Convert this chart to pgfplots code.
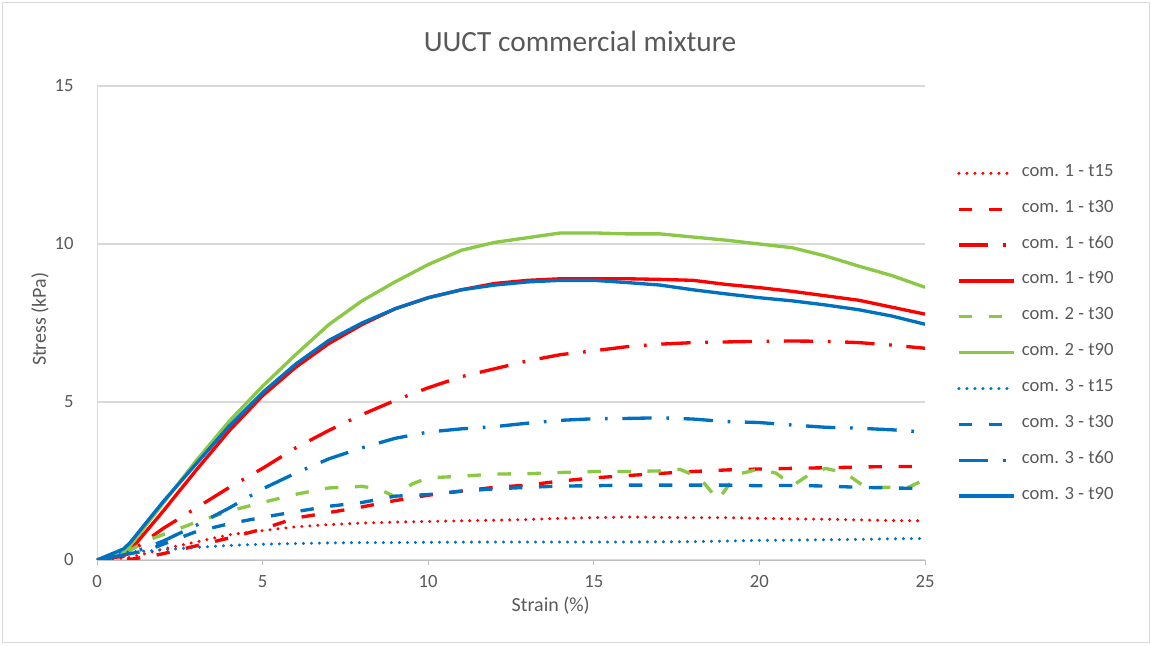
\documentclass[border=0pt]{standalone}
\usepackage{fontspec}
\setmainfont{Carlito}
\usepackage{pgfplots}
\pgfplotsset{compat=1.18}
\definecolor{cred}{RGB}{255,0,0}
\definecolor{cgreen}{RGB}{138,200,70}
\definecolor{cblue}{RGB}{0,112,192}
\definecolor{tgray}{RGB}{89,89,89}
\definecolor{lgray}{RGB}{217,217,217}
\definecolor{agray}{RGB}{191,191,191}
\begin{document}
\begin{tikzpicture}
\useasboundingbox (-72.75pt,-63.75pt) rectangle (790.5pt,420pt);
\draw[lgray, line width=0.6pt] (-71.25pt,-61.5pt) rectangle (789pt,418.5pt);
\node[text=tgray, font=\fontsize{22}{26}\selectfont] at (362.25pt,389pt) {UUCT commercial mixture};
\begin{axis}[
  at={(0,0)}, anchor=south west,
  scale only axis, width=621pt, height=355.5pt,
  xmin=0, xmax=25, ymin=0, ymax=15,
  xtick={0,5,10,15,20,25}, ytick={0,5,10,15},
  axis x line=bottom, axis y line=left,
  axis line style={-, color=agray, line width=0.7pt},
  x axis line style={color=agray},
  y axis line style={color=lgray},
  ymajorgrids, grid style={color=lgray, line width=0.8pt},
  tick align=outside, major tick length=4pt,
  xtick style={color=agray, line width=0.7pt},
  ytick style={draw=none},
  tick label style={font=\fontsize{14}{16}\selectfont, text=tgray},
  /pgf/number format/assume math mode=true,
  xticklabel style={yshift=-4pt},
  yticklabel style={xshift=-10pt},
  xlabel={Strain (\%)}, ylabel={Stress (kPa)},
  label style={font=\fontsize{15}{18}\selectfont, text=tgray},
  xlabel style={at={(axis description cs:0.548,-0.097)}, anchor=center},
  ylabel style={at={(axis description cs:-0.0688,0.508)}, anchor=center},
  every axis plot/.append style={line width=2.5pt, line join=round},
  legend cell align=left,
  legend image code/.code={\draw[#1] (0pt,0pt) -- (41pt,0pt);},
  legend style={at={(1.0386,0.8297)}, anchor=north west, draw=none, fill=none,
    inner sep=0pt, row sep=17.4pt, column sep=5pt,
    font=\fontsize{14}{16}\selectfont, text=tgray,
    nodes={inner sep=0pt, text height=7pt, text depth=2.5pt}},
]
% com. 1 - t15
\addplot[cred, line cap=round, dash pattern=on 0pt off 6pt] coordinates {
(0,0)(1,0.08)(2,0.35)(3,0.57)(4,0.8)(5,0.93)(6,1.05)(7,1.12)(8,1.17)(9,1.2)(10,1.22)(11,1.24)(12,1.26)(13,1.28)(14,1.32)(15,1.34)(16,1.36)(17,1.35)(18,1.34)(19,1.34)(20,1.32)(21,1.3)(22,1.29)(23,1.27)(24,1.25)(25,1.24)};
\addlegendentry{com. 1 - t15}
% com. 1 - t30
\addplot[cred, dash pattern=on 10pt off 12.5pt] coordinates {
(0,0)(1,0.02)(1.5,0.1)(2,0.2)(3,0.45)(4,0.7)(5,0.98)(6,1.33)(7,1.5)(8,1.68)(9,1.88)(10,2.05)(11,2.18)(12,2.3)(13,2.37)(14,2.5)(15,2.6)(16,2.67)(17,2.74)(18,2.8)(19,2.85)(20,2.88)(21,2.9)(22,2.92)(23,2.94)(24,2.96)(25,2.96)};
\addlegendentry{com. 1 - t30}
% com. 1 - t60
\addplot[cred, dash pattern=on 22pt off 11pt on 2pt off 11pt] coordinates {
(0,0)(1,0.25)(2,1.0)(3,1.65)(4,2.3)(5,2.9)(6,3.55)(7,4.1)(8,4.6)(9,5.05)(10,5.45)(11,5.8)(12,6.05)(13,6.3)(14,6.5)(15,6.62)(16,6.75)(17,6.83)(18,6.88)(19,6.9)(20,6.92)(21,6.93)(22,6.92)(23,6.88)(24,6.8)(25,6.7)};
\addlegendentry{com. 1 - t60}
% com. 1 - t90
\addplot[cred] coordinates {
(0,0)(0.8,0.12)(1,0.3)(2,1.55)(3,2.85)(4,4.1)(5,5.2)(6,6.1)(7,6.85)(8,7.45)(9,7.95)(10,8.3)(11,8.55)(12,8.75)(13,8.85)(14,8.9)(15,8.9)(16,8.9)(17,8.88)(18,8.85)(19,8.72)(20,8.62)(21,8.5)(22,8.36)(23,8.22)(24,8.0)(25,7.78)};
\addlegendentry{com. 1 - t90}
% com. 2 - t30
\addplot[cgreen, dash pattern=on 10pt off 12.5pt] coordinates {
(0,0)(0.8,0.2)(1.6,0.65)(2.5,1.0)(3,1.2)(4,1.55)(5,1.82)(6,2.08)(7,2.28)(8,2.33)(8.5,2.25)(9,2.0)(9.5,2.4)(10,2.6)(11,2.65)(12,2.72)(13,2.73)(14,2.77)(15,2.8)(16,2.8)(17,2.82)(17.6,2.87)(18.2,2.6)(18.75,1.9)(19.3,2.7)(20,2.88)(20.5,2.75)(21,2.35)(21.5,2.7)(22,2.9)(22.6,2.75)(23.2,2.3)(24,2.3)(24.5,2.3)(25,2.55)};
\addlegendentry{com. 2 - t30}
% com. 2 - t90
\addplot[cgreen] coordinates {
(0,0)(0.8,0.25)(1,0.45)(2,1.8)(3,3.15)(4,4.4)(5,5.5)(6,6.5)(7,7.45)(8,8.2)(9,8.8)(10,9.35)(11,9.8)(12,10.05)(13,10.2)(14,10.35)(15,10.35)(16,10.32)(17,10.32)(18,10.22)(19,10.12)(20,10.0)(21,9.88)(22,9.62)(23,9.3)(24,9.0)(25,8.63)};
\addlegendentry{com. 2 - t90}
% com. 3 - t15
\addplot[cblue, line cap=round, dash pattern=on 0pt off 6pt] coordinates {
(0,0)(0.7,0.25)(1,0.25)(2,0.32)(3,0.4)(4,0.46)(5,0.5)(6,0.52)(7,0.54)(8,0.55)(9,0.55)(10,0.56)(12,0.57)(14,0.57)(16,0.57)(18,0.58)(19,0.6)(20,0.62)(21,0.63)(22,0.64)(23,0.65)(24,0.67)(25,0.68)};
\addlegendentry{com. 3 - t15}
% com. 3 - t30
\addplot[cblue, dash pattern=on 10pt off 12.5pt] coordinates {
(0,0)(0.5,0.1)(1,0.2)(1.5,0.3)(2,0.5)(3,0.9)(4,1.15)(5,1.35)(6,1.53)(7,1.7)(8,1.82)(9,2.02)(10,2.07)(11,2.18)(12,2.25)(13,2.3)(14,2.34)(15,2.35)(16,2.37)(17,2.37)(18,2.37)(19,2.37)(20,2.35)(21,2.36)(22,2.34)(23,2.3)(24,2.28)(25,2.26)};
\addlegendentry{com. 3 - t30}
% com. 3 - t60
\addplot[cblue, dash pattern=on 22pt off 11pt on 2pt off 11pt] coordinates {
(0,0)(1,0.2)(2,0.6)(3,1.1)(4,1.65)(5,2.25)(6,2.75)(7,3.2)(8,3.55)(9,3.85)(10,4.05)(11,4.15)(12,4.22)(13,4.33)(14,4.42)(15,4.47)(16,4.48)(17,4.5)(18,4.46)(19,4.38)(20,4.35)(21,4.27)(22,4.2)(23,4.17)(24,4.12)(25,4.05)};
\addlegendentry{com. 3 - t60}
% com. 3 - t90
\addplot[cblue] coordinates {
(0,0)(0.8,0.35)(1,0.55)(2,1.85)(3,3.05)(4,4.25)(5,5.3)(6,6.2)(7,6.95)(8,7.5)(9,7.95)(10,8.3)(11,8.55)(12,8.7)(13,8.8)(14,8.85)(15,8.85)(16,8.78)(17,8.7)(18,8.55)(19,8.42)(20,8.3)(21,8.2)(22,8.07)(23,7.92)(24,7.72)(25,7.46)};
\addlegendentry{com. 3 - t90}
\end{axis}
\end{tikzpicture}
\end{document}
